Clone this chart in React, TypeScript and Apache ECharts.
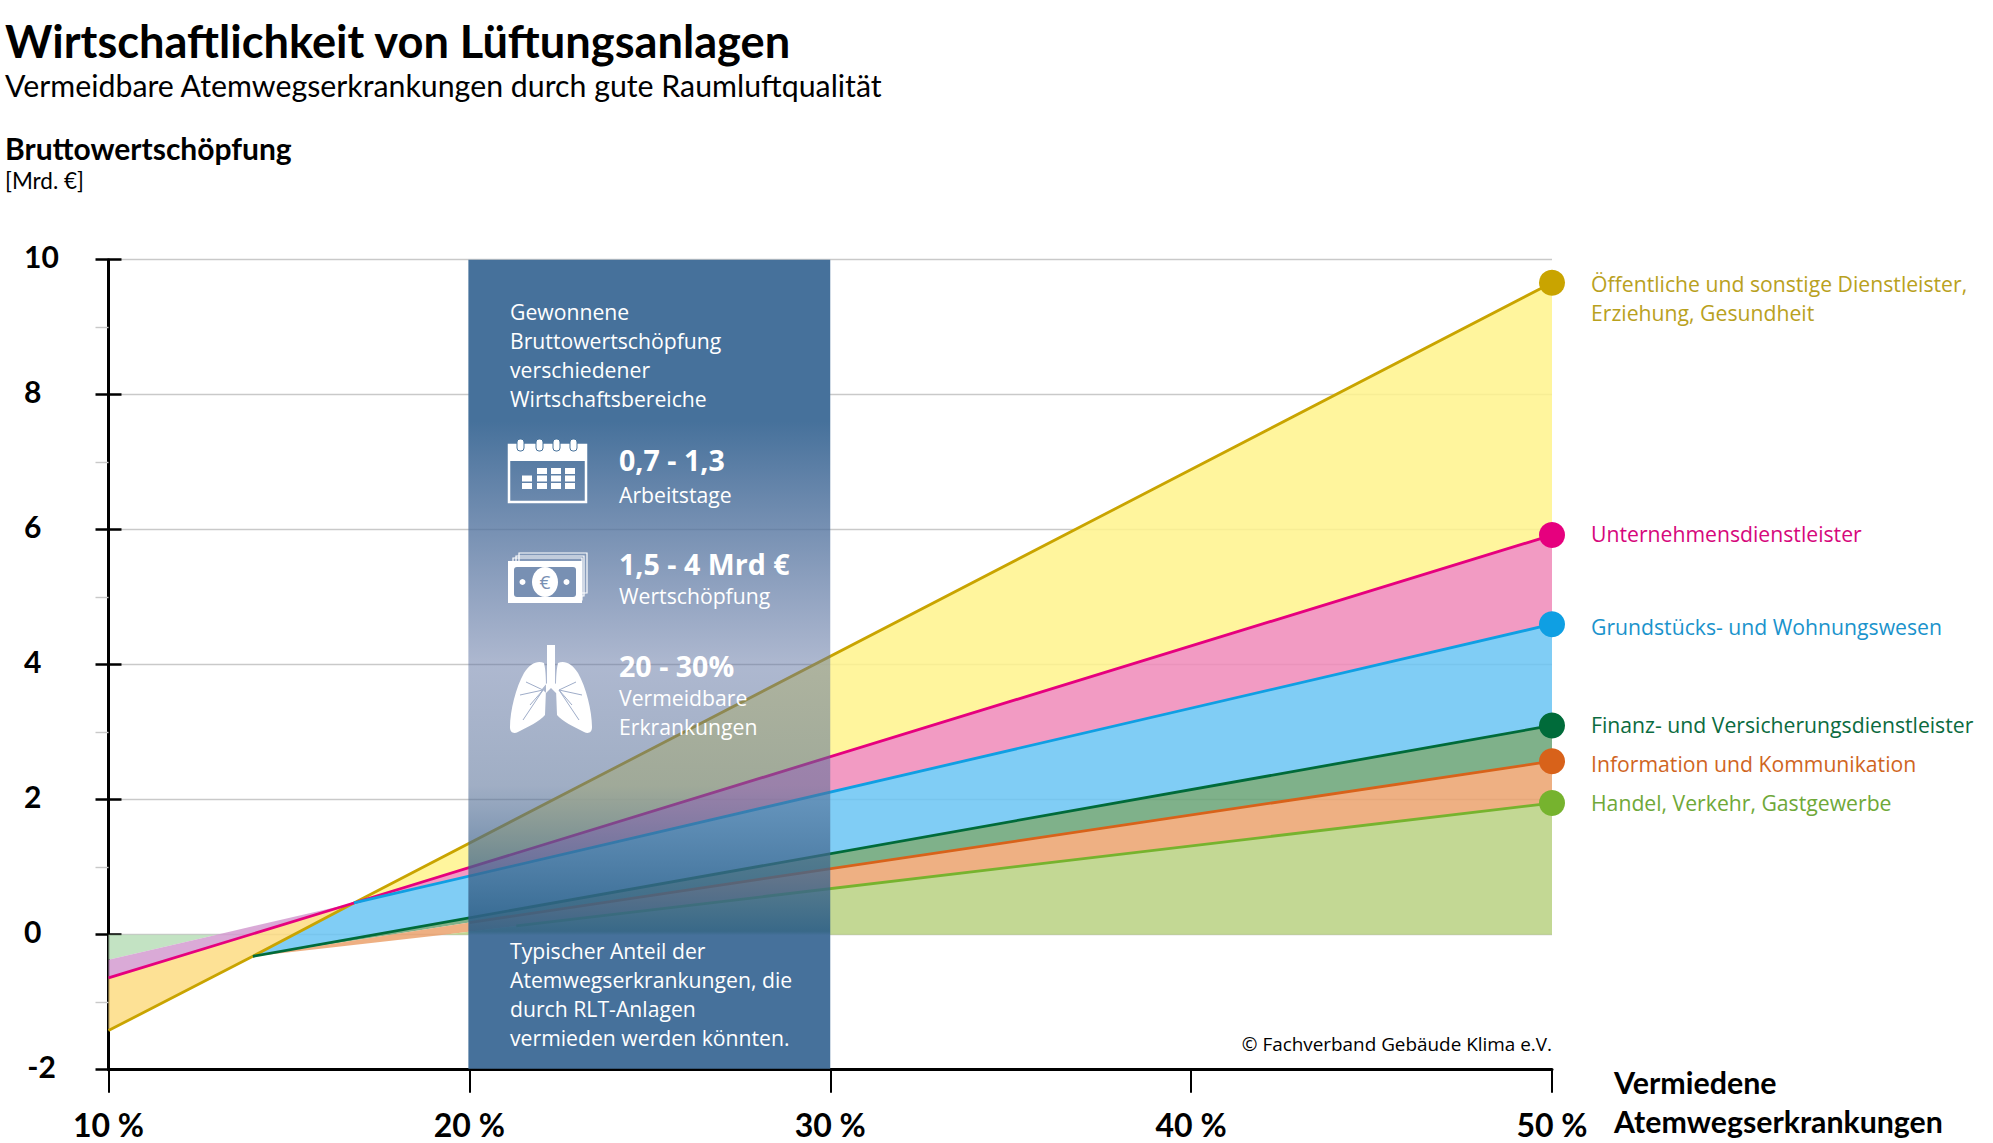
import React, { useEffect, useRef } from "react";
import * as echarts from "echarts";

const xTicks = [10, 20, 30, 40, 50];
const yEven = [-2, 0, 2, 4, 6, 8, 10];
const yOdd = [-1, 1, 3, 5, 7, 9];

// line end points: [x %, Mrd. €]
const oeffentlich = [[10, -1.42], [14, -0.32], [16.8, 0.47], [50, 9.66]];
const unternehmen = [[10, -0.64], [16.8, 0.47], [50, 5.92]];
const grundstueck = [[16.8, 0.47], [50, 4.6]];
const grundstueckLow = [[10, -0.37], [13, 0], [16.8, 0.47]];
const finanz = [[14, -0.32], [50, 3.1]];
const information = [[20, 0.18], [50, 2.57]];
const informationLow = [[14, -0.32], [20, 0.18]];
const handel = [[21.3, 0.13], [50, 1.95]];
const handelLow = [[14, -0.32], [19.3, 0], [21.3, 0.13]];
const nullLeft = [[10, 0], [13, 0]];
const nullRight = [[19.3, 0], [50, 0]];

const names = [
  ["Öffentliche und sonstige Dienstleister,", "Erziehung, Gesundheit"],
  ["Unternehmensdienstleister"],
  ["Grundstücks- und Wohnungswesen"],
  ["Finanz- und Versicherungsdienstleister"],
  ["Information und Kommunikation"],
  ["Handel, Verkehr, Gastgewerbe"],
];
const nameY = [[283, 312.5], [533.5], [626.5], [724.5], [763.5], [802.5]];
const endValues = [9.66, 5.92, 4.6, 3.1, 2.57, 1.95];
const lineColors = ["#c9a400", "#e6007e", "#0f9fe3", "#006b3a", "#d8621a", "#76b32e"];
const textColors = ["#b9a11e", "#d6087c", "#1a93cc", "#0b6b40", "#d0651f", "#6fa838"];

const panelTop = ["Gewonnene", "Bruttowertschöpfung", "verschiedener", "Wirtschaftsbereiche"];
const panelTopY = [311, 340.5, 369.5, 398.5];
const panelBottom = ["Typischer Anteil der", "Atemwegserkrankungen, die", "durch RLT-Anlagen", "vermieden werden könnten."];
const panelBottomY = [950.5, 979.5, 1008.5, 1037.5];

const LUNG =
  "M36 20C30 17 22 20 16 30C8 44 2 68 2 84C2 90 6 91 10 89C20 84 32 78 37 72L38 46C38 40 38 28 36 20Z" +
  "M50 20C56 17 64 20 70 30C78 44 84 68 84 84C84 90 80 91 76 89C66 84 54 78 49 72L48 46C48 40 48 28 50 20Z" +
  "M39 2H47V40L52 46L48 50L43 45L38 50L34 46L39 40Z";
echarts.graphic.registerShape("lungs", echarts.graphic.extendPath(LUNG, {}) as any);

const FONT = '"Open Sans"';
const BOLD = "Lato";
const SMALL = 21.2;

function txt(text: string, x: number, y: number, size: number, fill: string, opt: any = {}) {
  return {
    type: "text",
    z: 100,
    x,
    y,
    scaleX: opt.scaleX ?? 1,
    style: {
      text,
      fill,
      fontSize: size,
      fontFamily: opt.family ?? FONT,
      fontWeight: opt.weight ?? "normal",
      textAlign: opt.align ?? "left",
      textVerticalAlign: "middle",
      verticalAlign: "middle",
    },
  };
}

function rect(x: number, y: number, w: number, h: number, fill: string, extra: any = {}) {
  return { type: "rect", z: 100, shape: { x, y, width: w, height: h, r: extra.r ?? 0 }, style: { fill, stroke: extra.stroke, lineWidth: extra.lineWidth } };
}

function icons() {
  const out: any[] = [];
  const W = "#ffffff";
  // calendar
  out.push(rect(509, 445, 77, 57, "none", { stroke: W, lineWidth: 2.5 }));
  out.push(rect(508, 444, 79, 17, W));
  [520, 539, 556, 573].forEach((x) => out.push(rect(x - 3, 439, 7, 12, W, { r: 3, stroke: "#47729b", lineWidth: 1 })));
  [[537, 551, 565], [522, 537, 551, 565], [522, 537, 551, 565]].forEach((row, r) =>
    row.forEach((x) => out.push(rect(x, 468 + r * 7.5, 10, 6, W)))
  );
  // bank notes
  out.push(rect(519, 553, 68, 40, "none", { stroke: W, lineWidth: 1.2 }));
  out.push(rect(516, 556, 68, 40, "none", { stroke: W, lineWidth: 1.2 }));
  out.push(rect(513, 558, 69, 42, "none", { stroke: W, lineWidth: 1.2 }));
  out.push(rect(508, 561, 74, 42, W));
  out.push(rect(514, 567, 62, 30, "#7890b3", { r: 3 }));
  out.push({ type: "ellipse", z: 100, shape: { cx: 545, cy: 582, rx: 13, ry: 15 }, style: { fill: W } });
  out.push({ type: "circle", z: 100, shape: { cx: 522.5, cy: 582, r: 3 }, style: { fill: W } });
  out.push({ type: "circle", z: 100, shape: { cx: 566.5, cy: 582, r: 3 }, style: { fill: W } });
  out.push(txt("€", 545, 582, 19, "#7890b3", { align: "center" }));
  // lungs
  out.push({ type: "lungs", z: 100, x: 508, y: 643, scaleX: 1, scaleY: 1, style: { fill: W } });
  const veins = [
    [[526, 682], [543, 690], [530, 705]],
    [[520, 695], [543, 690], [523, 720]],
    [[576, 682], [559, 690], [572, 705]],
    [[582, 695], [559, 690], [579, 720]],
  ];
  veins.forEach((points) =>
    out.push({ type: "polyline", z: 101, shape: { points }, style: { stroke: "#9fadc9", lineWidth: 1, fill: "none" } })
  );
  return out;
}

function band(points: number[][], fill: string, z: number) {
  return {
    type: "custom",
    coordinateSystem: "cartesian2d",
    silent: true,
    z,
    data: points,
    encode: { x: 0, y: 1 },
    renderItem: (params: any, api: any) => {
      if (params.dataIndex !== 0) return null;
      return { type: "polygon", shape: { points: points.map((p) => api.coord(p)) }, style: { fill } };
    },
  };
}

function ln(data: number[][], color: string) {
  return { type: "line", z: 3, data, symbol: "none", silent: true, lineStyle: { color, width: 2.8 } };
}

const rev = (a: number[][]) => [...a].reverse();

const panelGradient = {
  type: "linear",
  x: 0,
  y: 0,
  x2: 0,
  y2: 1,
  colorStops: [
    { offset: 0, color: "rgba(70,113,155,1)" },
    { offset: 0.2, color: "rgba(70,113,155,1)" },
    { offset: 0.5, color: "rgba(92,113,160,0.5)" },
    { offset: 0.65, color: "rgba(85,110,150,0.56)" },
    { offset: 0.83, color: "rgba(45,95,135,0.92)" },
    { offset: 0.835, color: "rgba(70,113,155,1)" },
    { offset: 1, color: "rgba(70,113,155,1)" },
  ],
};

export default function App() {
  const ref = useRef<HTMLDivElement>(null);
  useEffect(() => {
    const chart = echarts.init(ref.current!, null, { renderer: "svg" });
    const yBase = { type: "value", min: -2, max: 10, interval: 1 };
    const labels: any[] = [];
    names.forEach((lines, i) =>
      lines.forEach((t, j) => labels.push(txt(t, 1591, nameY[i][j], SMALL, textColors[i])))
    );
    panelTop.forEach((t, i) => labels.push(txt(t, 510, panelTopY[i], SMALL, "#ffffff")));
    panelBottom.forEach((t, i) => labels.push(txt(t, 510, panelBottomY[i], SMALL, "#ffffff")));

    chart.setOption({
      animation: false,
      backgroundColor: "#ffffff",
      grid: { left: 108.5, top: 259.7, width: 1443.5, height: 810, containLabel: false },
      xAxis: {
        type: "value",
        min: 10,
        max: 50,
        interval: 10,
        axisLine: { show: true, onZero: false, lineStyle: { color: "#000", width: 3 } },
        axisTick: { show: true, length: 23, lineStyle: { color: "#000", width: 2 } },
        splitLine: { show: false },
        axisLabel: {
          margin: 39,
          color: "#000",
          fontFamily: BOLD,
          fontWeight: "bold",
          fontSize: 32,
          formatter: (v: number) => `${v} %`,
          customValues: xTicks,
          alignMinLabel: "center",
          alignMaxLabel: "center",
        },
      },
      yAxis: [
        {
          ...yBase,
          axisLine: { show: true, onZero: false, lineStyle: { color: "#000", width: 3 } },
          axisTick: { show: true, length: 13, customValues: yEven, lineStyle: { color: "#000", width: 2.5 } },
          splitLine: { show: true, lineStyle: { color: "#c9c9c9", width: 1.4 } },
          axisLabel: {
            margin: 67,
            customValues: yEven,
            alignMinLabel: "center",
            alignMaxLabel: "center",
            formatter: (v: number) => `{v|${v}}`,
            rich: {
              v: {
                color: "#000",
                fontFamily: BOLD,
                fontWeight: "bold",
                fontSize: 30,
                padding: [0, 0, 7, 0],
              },
            },
          },
        },
        {
          ...yBase,
          axisLine: { show: false },
          axisLabel: { show: false },
          splitLine: { show: false },
          axisTick: { show: true, inside: true, length: 13, customValues: yEven, lineStyle: { color: "#000", width: 2.5 } },
          position: "left",
        },
        {
          ...yBase,
          axisLine: { show: false },
          axisLabel: { show: false },
          splitLine: { show: false },
          axisTick: { show: true, length: 13, customValues: yOdd, lineStyle: { color: "#c9c9c9", width: 1.4 } },
          position: "left",
        },
      ],
      series: [
        band([...nullLeft, ...rev(grundstueckLow.slice(0, 2))], "rgba(184,222,184,0.85)", 2),
        band([...grundstueckLow, ...rev(unternehmen.slice(0, 2))], "rgba(212,155,208,0.85)", 2),
        band([...unternehmen.slice(0, 2), ...rev(oeffentlich.slice(0, 3))], "rgba(253,220,130,0.85)", 2),
        band([...oeffentlich.slice(2), ...rev(unternehmen.slice(1))], "rgba(255,243,140,0.85)", 2),
        band([...unternehmen.slice(1), ...rev(grundstueck)], "rgba(240,138,184,0.85)", 2),
        band([oeffentlich[1], ...grundstueck, ...rev(finanz)], "rgba(106,196,243,0.85)", 2),
        band([...finanz, ...rev(information), ...rev(informationLow)], "rgba(104,163,117,0.85)", 2),
        band([...informationLow, ...information, ...rev(handel), ...rev(handelLow)], "rgba(235,162,109,0.85)", 2),
        band([...nullRight, ...rev(handel), ...[[19.3, 0]]], "rgba(184,209,129,0.85)", 2),
        ln(oeffentlich, lineColors[0]),
        ln(unternehmen, lineColors[1]),
        ln(grundstueck, lineColors[2]),
        ln(finanz, lineColors[3]),
        ln(information, lineColors[4]),
        ln(handel, lineColors[5]),
        {
          type: "custom",
          coordinateSystem: "cartesian2d",
          silent: true,
          z: 4,
          data: [[20, 10], [30, -2]],
          encode: { x: 0, y: 1 },
          renderItem: (params: any, api: any) => {
            if (params.dataIndex !== 0) return null;
            const a = api.coord([20, 10]);
            const b = api.coord([30, -2]);
            return {
              type: "rect",
              shape: { x: a[0] - 1, y: a[1], width: b[0] - a[0] + 1, height: b[1] - a[1] - 1 },
              style: { fill: panelGradient },
            };
          },
        },
        {
          type: "scatter",
          z: 5,
          silent: true,
          symbolSize: 26,
          clip: false,
          data: endValues.map((v, i) => ({ value: [50, v], itemStyle: { color: lineColors[i], opacity: 1 } })),
        },
      ],
      graphic: {
        elements: [
          txt("Wirtschaftlichkeit von Lüftungsanlagen", 5, 40, 45.2, "#000", { family: BOLD, weight: "bold" }),
          txt("Vermeidbare Atemwegserkrankungen durch gute Raumluftqualität", 5, 84.5, 30.3, "#000", { family: BOLD }),
          txt("Bruttowertschöpfung", 5, 147.5, 30, "#000", { family: BOLD, weight: "bold" }),
          txt("[Mrd. €]", 5, 180, 22.5, "#000", { family: BOLD }),
          txt("Vermiedene", 1614, 1082, 30.4, "#000", { family: BOLD, weight: "bold" }),
          txt("Atemwegserkrankungen", 1614, 1121, 30.3, "#000", { family: BOLD, weight: "bold" }),
          txt("© Fachverband Gebäude Klima e.V.", 1552, 1044, 18.9, "#000", { align: "right" }),
          txt("0,7 - 1,3", 619, 459, 28.6, "#fff", { weight: "bold" }),
          txt("Arbeitstage", 619, 494.5, SMALL, "#fff"),
          txt("1,5 - 4 Mrd €", 619, 563, 28.6, "#fff", { weight: "bold" }),
          txt("Wertschöpfung", 619, 595, SMALL, "#fff"),
          txt("20 - 30%", 619, 665, 28.6, "#fff", { weight: "bold" }),
          txt("Vermeidbare", 619, 697, SMALL, "#fff"),
          txt("Erkrankungen", 619, 726, SMALL, "#fff"),
          ...labels,
          ...icons(),
        ],
      },
    });
    return () => chart.dispose();
  }, []);
  return <div ref={ref} style={{ position: "fixed", left: 0, top: 0, width: 1993, height: 1143 }} />;
}
